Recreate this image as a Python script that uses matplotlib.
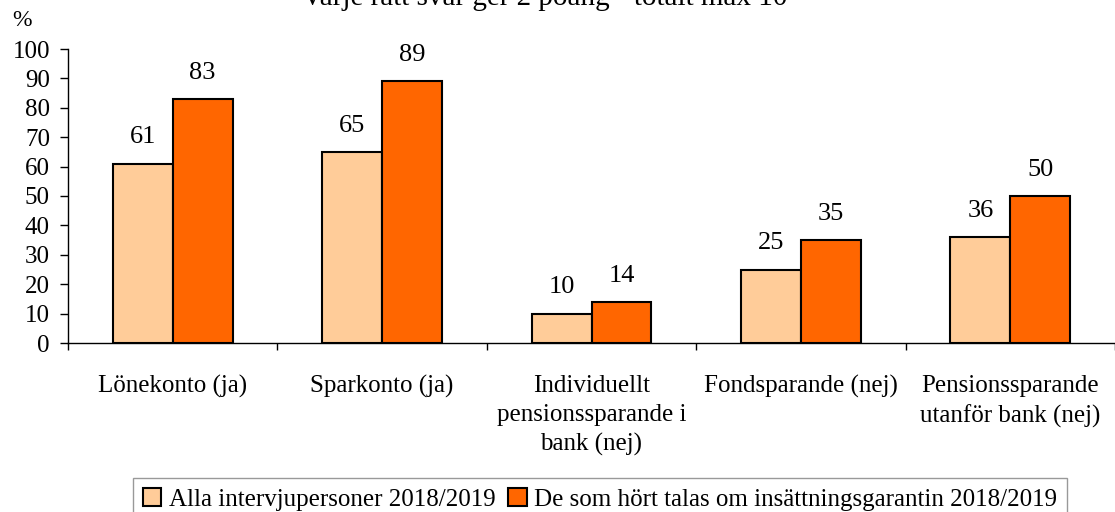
import matplotlib
matplotlib.use("Agg")
import matplotlib.pyplot as plt
import numpy as np
from matplotlib.patches import Patch

plt.rcParams["font.family"] = ["Liberation Serif", "DejaVu Serif"]

# Data
categories = [
    "Lönekonto (ja)",
    "Sparkonto (ja)",
    "Individuellt\npensionssparande i\nbank (nej)",
    "Fondsparande (nej)",
    "Pensionssparande\nutanför bank (nej)",
]
alla = [61, 65, 10, 25, 36]
hort = [83, 89, 14, 35, 50]
series_names = [
    "Alla intervjupersoner 2018/2019",
    "De som hört talas om insättningsgarantin 2018/2019",
]
title = "Varje rätt svar ger 2 poäng - totalt max 10"
colors = ["#FFCC99", "#FF6600"]

W, H = 1115, 512
fig = plt.figure(figsize=(W / 100, H / 100), dpi=100)
ax = fig.add_axes([68 / W, 169 / H, (W - 68) / W, 294 / H])

x = np.arange(len(categories)) + 0.5
bw = 0.286
b1 = ax.bar(x - bw / 2, alla, bw, color=colors[0], edgecolor="black", linewidth=1.5)
b2 = ax.bar(x + bw / 2, hort, bw, color=colors[1], edgecolor="black", linewidth=1.5)

for bars, vals in ((b1, alla), (b2, hort)):
    for rect, v in zip(bars, vals):
        ax.annotate(str(v), (rect.get_x() + rect.get_width() / 2, v),
                    xytext=(0, 11), textcoords="offset points",
                    ha="center", va="bottom", fontsize=19)

ax.set_xlim(0, len(categories))
ax.set_ylim(0, 100)
ax.set_yticks(np.arange(0, 101, 10))
ax.tick_params(axis="y", labelsize=18, length=6, width=1, direction="out", pad=7)

ax.set_xticks(x)
ax.set_xticklabels(categories, fontsize=18, linespacing=1.4)
ax.set_xticks(np.arange(0, len(categories) + 1), minor=True)
ax.tick_params(axis="x", which="major", length=0, pad=23)
ax.tick_params(axis="x", which="minor", length=5, width=1, direction="out")

for s in ("top", "right"):
    ax.spines[s].set_visible(False)
ax.spines["left"].set_linewidth(1)
ax.spines["bottom"].set_linewidth(1)

fig.text(545 / W, 1 - 5 / H, title, ha="center", va="baseline", fontsize=21)
fig.text(22 / W, 1 - 20 / H, "%", ha="center", va="center", fontsize=17)

handles = [Patch(facecolor=c, edgecolor="black", linewidth=1.5) for c in colors]
leg = fig.legend(handles, series_names, loc="upper center",
                 bbox_to_anchor=(600 / W, 1 - 478 / H), ncol=2, fontsize=18,
                 frameon=True, fancybox=False, edgecolor="#808080",
                 handlelength=0.75, handleheight=0.75, handletextpad=0.3,
                 columnspacing=0.5, borderaxespad=0, borderpad=0.4)
leg.get_frame().set_linewidth(1)

fig.savefig("out.png", dpi=100)
